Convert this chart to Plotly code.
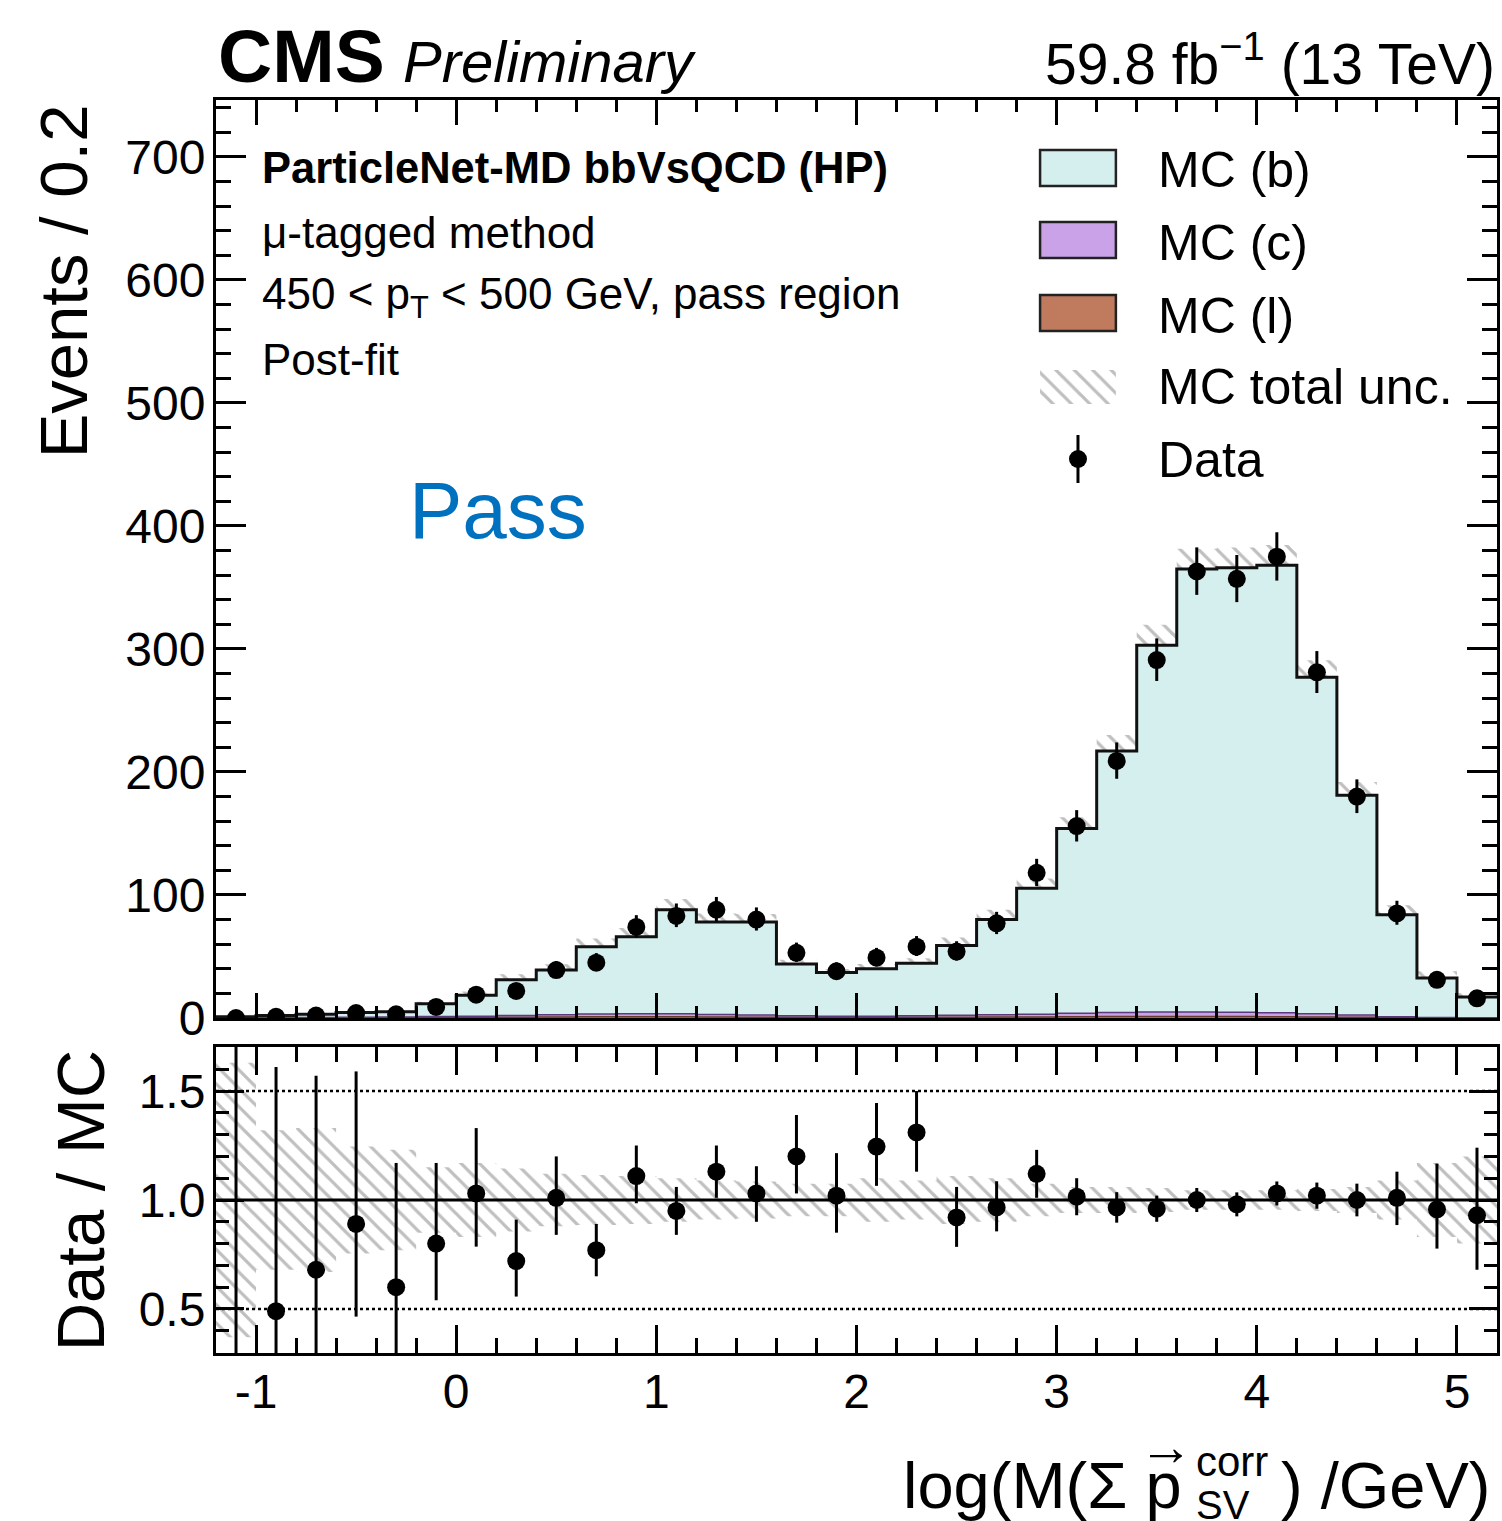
import plotly.graph_objects as go

# ---------------- data ----------------
bin_centers = [-1.1, -0.9, -0.7, -0.5, -0.3, -0.1, 0.1, 0.3, 0.5, 0.7, 0.9, 1.1, 1.3, 1.5, 1.7, 1.9,
               2.1, 2.3, 2.5, 2.7, 2.9, 3.1, 3.3, 3.5, 3.7, 3.9, 4.1, 4.3, 4.5, 4.7, 4.9, 5.1]
bin_width = 0.2

data_counts = [0, 1, 2, 4, 3, 9, 19, 22, 39, 45, 74, 83, 88, 80, 53, 38,
               49, 58, 54, 77, 118, 156, 209, 291, 363, 357, 375, 281, 180, 85, 31, 16]
data_err_hi = [1.84, 2.30, 2.64, 3.16, 2.92, 4.11, 5.4, 5.73, 7.3, 7.75, 9.6, 10.1, 10.4, 9.9, 8.3, 7.2,
               8.0, 8.6, 8.4, 9.3, 11.4, 13.0, 15.0, 17.6, 19.6, 19.4, 19.9, 17.3, 14.0, 10.3, 6.6, 5.1]
data_err_lo = [0, 0.83, 1.29, 1.91, 1.63, 2.94, 4.3, 4.6, 6.2, 6.7, 8.6, 9.1, 9.4, 8.9, 7.3, 6.1,
               7.0, 7.6, 7.3, 8.8, 10.8, 12.5, 14.5, 17.0, 19.0, 18.9, 19.4, 16.8, 13.4, 9.2, 5.5, 4.0]

mc_b = [0.8, 1.7, 2.5, 3.9, 4.2, 10.3, 17.0, 28.9, 36.4, 54.8, 62.5, 84.5, 75.2, 75.5, 42.2, 35.5,
        38.5, 42.7, 56.8, 77.4, 102.4, 150.2, 212.6, 298.2, 360.2, 361.3, 363.7, 273.6, 178.6, 82.9, 32.0, 16.7]
mc_c = [0.1, 0.2, 0.3, 0.4, 0.5, 0.8, 1.0, 1.5, 1.8, 2.2, 2.5, 2.5, 2.0, 1.8, 1.2, 1.0,
        1.0, 1.2, 1.5, 1.8, 2.2, 2.8, 3.2, 3.5, 3.5, 3.5, 3.2, 2.5, 1.8, 0.8, 0.3, 0.2]
mc_l = [0.1, 0.1, 0.2, 0.2, 0.3, 0.4, 0.5, 0.6, 0.8, 1.0, 1.0, 1.0, 0.8, 0.7, 0.6, 0.5,
        0.5, 0.6, 0.7, 0.8, 0.9, 1.0, 1.2, 1.3, 1.3, 1.2, 1.1, 0.9, 0.6, 0.3, 0.2, 0.1]
mc_rel_unc = [0.63, 0.32, 0.33, 0.245, 0.23, 0.15, 0.17, 0.145, 0.12, 0.115, 0.11, 0.10, 0.09, 0.085, 0.075, 0.075,
              0.10, 0.09, 0.11, 0.10, 0.075, 0.06, 0.06, 0.055, 0.045, 0.045, 0.045, 0.05, 0.06, 0.09, 0.17, 0.20]

ratio = [0.0, 0.49, 0.68, 0.89, 0.60, 0.80, 1.03, 0.72, 1.01, 0.77, 1.11, 0.95, 1.13, 1.03, 1.20, 1.02,
         1.245, 1.31, 0.92, 0.966, 1.12, 1.015, 0.966, 0.96, 1.0, 0.98, 1.03, 1.02, 1.0, 1.01, 0.957, 0.93]
ratio_err_hi = [1.84, 1.12, 0.89, 0.70, 0.57, 0.37, 0.30, 0.19, 0.19, 0.12, 0.14, 0.11, 0.12, 0.125, 0.19, 0.195,
                0.20, 0.19, 0.14, 0.12, 0.11, 0.085, 0.07, 0.06, 0.055, 0.055, 0.055, 0.06, 0.075, 0.12, 0.21, 0.31]
ratio_err_lo = [0, 0.41, 0.50, 0.425, 0.40, 0.26, 0.244, 0.163, 0.17, 0.12, 0.125, 0.11, 0.12, 0.13, 0.17, 0.17,
                0.18, 0.18, 0.135, 0.11, 0.11, 0.085, 0.07, 0.06, 0.055, 0.055, 0.055, 0.06, 0.075, 0.125, 0.18, 0.25]

x_tick_vals = [-1, 0, 1, 2, 3, 4, 5]
x_tick_text = ["-1", "0", "1", "2", "3", "4", "5"]
y_tick_vals = [0, 100, 200, 300, 400, 500, 600, 700]
r_tick_vals = [0.5, 1.0, 1.5]
r_tick_text = ["0.5", "1.0", "1.5"]

# ---------------- styling / layout constants ----------------
W, H = 1502, 1521
ML, MR, MT, MB = 216, 2, 100, 168
PW, PH = W - ML - MR, H - MT - MB
FONT = "Liberation Sans, Arial, Helvetica, sans-serif"
COL_B, COL_C, COL_L = "#d5eeee", "#c9a2e8", "#c07b5f"
HATCH = dict(shape="\\", fgcolor="#7f7f7f", bgcolor="rgba(0,0,0,0)", size=13, solidity=0.25)


def ax(px):
    return (px - ML) / PW


def ay(py):
    return (H - MB - py) / PH


edges = [c - bin_width / 2 for c in bin_centers] + [bin_centers[-1] + bin_width / 2]


def step(vals):
    return list(vals) + [vals[-1]]


top_l = list(mc_l)
top_c = [a + b for a, b in zip(mc_l, mc_c)]
top_all = [a + b for a, b in zip(top_c, mc_b)]
band_lo = [t * (1 - u) for t, u in zip(top_all, mc_rel_unc)]
band_hi = [t * (1 + u) for t, u in zip(top_all, mc_rel_unc)]
rband_lo = [1 - u for u in mc_rel_unc]
rband_hi = [1 + u for u in mc_rel_unc]

fig = go.Figure()

# main-panel uncertainty band (under the stack)
fig.add_trace(go.Scatter(x=edges, y=step(band_lo), mode="lines", line=dict(width=0, shape="hv"),
                         xaxis="x", yaxis="y", hoverinfo="skip"))
fig.add_trace(go.Scatter(x=edges, y=step(band_hi), mode="lines", line=dict(width=0, shape="hv"),
                         fill="tonexty", fillcolor="rgba(0,0,0,0)", fillpattern=HATCH,
                         xaxis="x", yaxis="y", hoverinfo="skip"))
# stack
fig.add_trace(go.Scatter(x=edges, y=step(top_l), mode="lines", line=dict(width=1.5, shape="hv", color="#6a3a2a"),
                         fill="tozeroy", fillcolor=COL_L, xaxis="x", yaxis="y"))
fig.add_trace(go.Scatter(x=edges, y=step(top_c), mode="lines", line=dict(width=1.5, shape="hv", color="#5a3a7a"),
                         fill="tonexty", fillcolor=COL_C, xaxis="x", yaxis="y"))
fig.add_trace(go.Scatter(x=edges, y=step(top_all), mode="lines", line=dict(width=3, shape="hv", color="#111"),
                         fill="tonexty", fillcolor=COL_B, xaxis="x", yaxis="y"))
# data
fig.add_trace(go.Scatter(x=bin_centers, y=data_counts, mode="markers",
                         marker=dict(size=18, color="black"),
                         error_y=dict(type="data", symmetric=False, array=data_err_hi, arrayminus=data_err_lo,
                                      thickness=3, width=0, color="black"),
                         xaxis="x", yaxis="y"))

# ratio panel band
fig.add_trace(go.Scatter(x=edges, y=step(rband_lo), mode="lines", line=dict(width=0, shape="hv"),
                         xaxis="x2", yaxis="y2", hoverinfo="skip"))
fig.add_trace(go.Scatter(x=edges, y=step(rband_hi), mode="lines", line=dict(width=0, shape="hv"),
                         fill="tonexty", fillcolor="rgba(0,0,0,0)", fillpattern=HATCH,
                         xaxis="x2", yaxis="y2", hoverinfo="skip"))
fig.add_trace(go.Scatter(x=bin_centers, y=ratio, mode="markers",
                         marker=dict(size=18, color="black"),
                         error_y=dict(type="data", symmetric=False, array=ratio_err_hi, arrayminus=ratio_err_lo,
                                      thickness=3, width=0, color="black"),
                         xaxis="x2", yaxis="y2"))

# legend glyphs on a pixel-unit overlay axis
fig.add_trace(go.Scatter(x=[1042, 1118, 1118, 1042, 1042], y=[370, 370, 404, 404, 370], mode="lines",
                         line=dict(width=0), fill="toself", fillcolor="rgba(0,0,0,0)", fillpattern=HATCH,
                         xaxis="x3", yaxis="y3", hoverinfo="skip"))
fig.add_trace(go.Scatter(x=[1080], y=[459], mode="markers", marker=dict(size=18, color="black"),
                         error_y=dict(type="data", array=[24], thickness=3, width=0, color="black"),
                         xaxis="x3", yaxis="y3", hoverinfo="skip"))

tickfont = dict(family=FONT, size=48, color="black")
common_axis = dict(showline=True, linewidth=3, linecolor="black", mirror="allticks", ticks="inside",
                   tickwidth=2.5, tickcolor="black", showgrid=False, zeroline=False, tickfont=tickfont)

dom_split_main = ay(1018)
dom_split_ratio = ay(1047)

fig.update_layout(
    width=W, height=H, margin=dict(l=ML, r=MR, t=MT, b=MB, pad=0),
    paper_bgcolor="white", plot_bgcolor="rgba(0,0,0,0)", showlegend=False,
    font=dict(family=FONT, color="black"),
    xaxis=dict(common_axis, domain=[0, 1], anchor="y", range=[-1.2, 5.2], tickvals=x_tick_vals,
               showticklabels=False, ticklen=25, minor=dict(dtick=0.2, ticklen=12, tickwidth=2.5,
                                                               ticks="inside", tickcolor="black")),
    yaxis=dict(common_axis, domain=[dom_split_main, 1], anchor="x", range=[0, 746.3], tickvals=y_tick_vals,
               ticklen=30, ticklabelstandoff=-2,
               minor=dict(dtick=20, ticklen=15, tickwidth=2.5, ticks="inside", tickcolor="black")),
    xaxis2=dict(common_axis, domain=[0, 1], anchor="y2", matches="x", range=[-1.2, 5.2],
                tickvals=x_tick_vals, ticktext=x_tick_text, ticklen=28, ticklabelstandoff=-6,
                minor=dict(dtick=0.2, ticklen=15, tickwidth=2.5, ticks="inside", tickcolor="black")),
    yaxis2=dict(common_axis, domain=[0, dom_split_ratio], anchor="x2", range=[0.298, 1.702],
                tickvals=r_tick_vals, ticktext=r_tick_text, ticklen=28, ticklabelstandoff=-2,
                minor=dict(dtick=0.1, ticklen=13, tickwidth=2.5, ticks="inside", tickcolor="black")),
    xaxis3=dict(overlaying="x", anchor="y3", range=[ML, W - MR], visible=False),
    yaxis3=dict(overlaying="y", anchor="x3", range=[1018, 100], visible=False),
)

shapes = []
# ratio reference lines
for yv, dash, wd in [(1.0, "solid", 3), (0.5, "dot", 2.5), (1.5, "dot", 2.5)]:
    shapes.append(dict(type="line", xref="x2 domain", yref="y2", x0=0, x1=1, y0=yv, y1=yv,
                       line=dict(color="black", width=wd, dash=dash), layer="above"))
# legend boxes
for (y0, y1, col) in [(150, 186, COL_B), (222, 258, COL_C), (295, 331, COL_L)]:
    shapes.append(dict(type="rect", xref="x3", yref="y3", x0=1042, x1=1118, y0=y0, y1=y1,
                       fillcolor=col, line=dict(color="#222", width=2.5)))
fig.update_layout(shapes=shapes)

ann = []


def text(s, px, py, size, xanchor="left", color="black", bold=False, italic=False, angle=0):
    t = s
    if bold:
        t = "<b>" + t + "</b>"
    if italic:
        t = "<i>" + t + "</i>"
    ann.append(dict(text=t, x=ax(px), y=ay(py), xref="paper", yref="paper", xanchor=xanchor,
                    yanchor="middle", showarrow=False, textangle=angle,
                    font=dict(family=FONT, size=size, color=color)))


# header
text("CMS", 216, 56, 75, bold=True)
text("Preliminary", 401, 62, 58, italic=True)
text("59.8 fb<sup>−1</sup> (13 TeV)", 1500, 60, 57, xanchor="right")
# panel texts
text("ParticleNet-MD bbVsQCD (HP)", 260, 168, 43.5, bold=True)
text("μ-tagged method", 260, 232, 44)
text("450 &lt; p<sub>T</sub> &lt; 500 GeV, pass region", 260, 297, 44)
text("Post-fit", 260, 360, 44)
text("Pass", 407, 510, 80, color="#0071bf")
# legend texts
for lbl, yy in [("MC (b)", 170), ("MC (c)", 243), ("MC (l)", 316), ("MC total unc.", 387), ("Data", 460)]:
    text(lbl, 1158, yy, 50)
# axis titles
text("Events / 0.2", 64, 281, 67, xanchor="center", angle=-90)
text("Data / MC", 80, 1200, 67, xanchor="center", angle=-90)
text("log(M(Σ p", 1186, 1485, 65, xanchor="right")
text("→", 1168, 1446, 54, xanchor="center")
text("corr", 1196, 1462, 42)
text("SV", 1196, 1505, 40)
text(") /GeV)", 1281, 1485, 65)

fig.update_layout(annotations=ann)
fig.write_html("out.html")
